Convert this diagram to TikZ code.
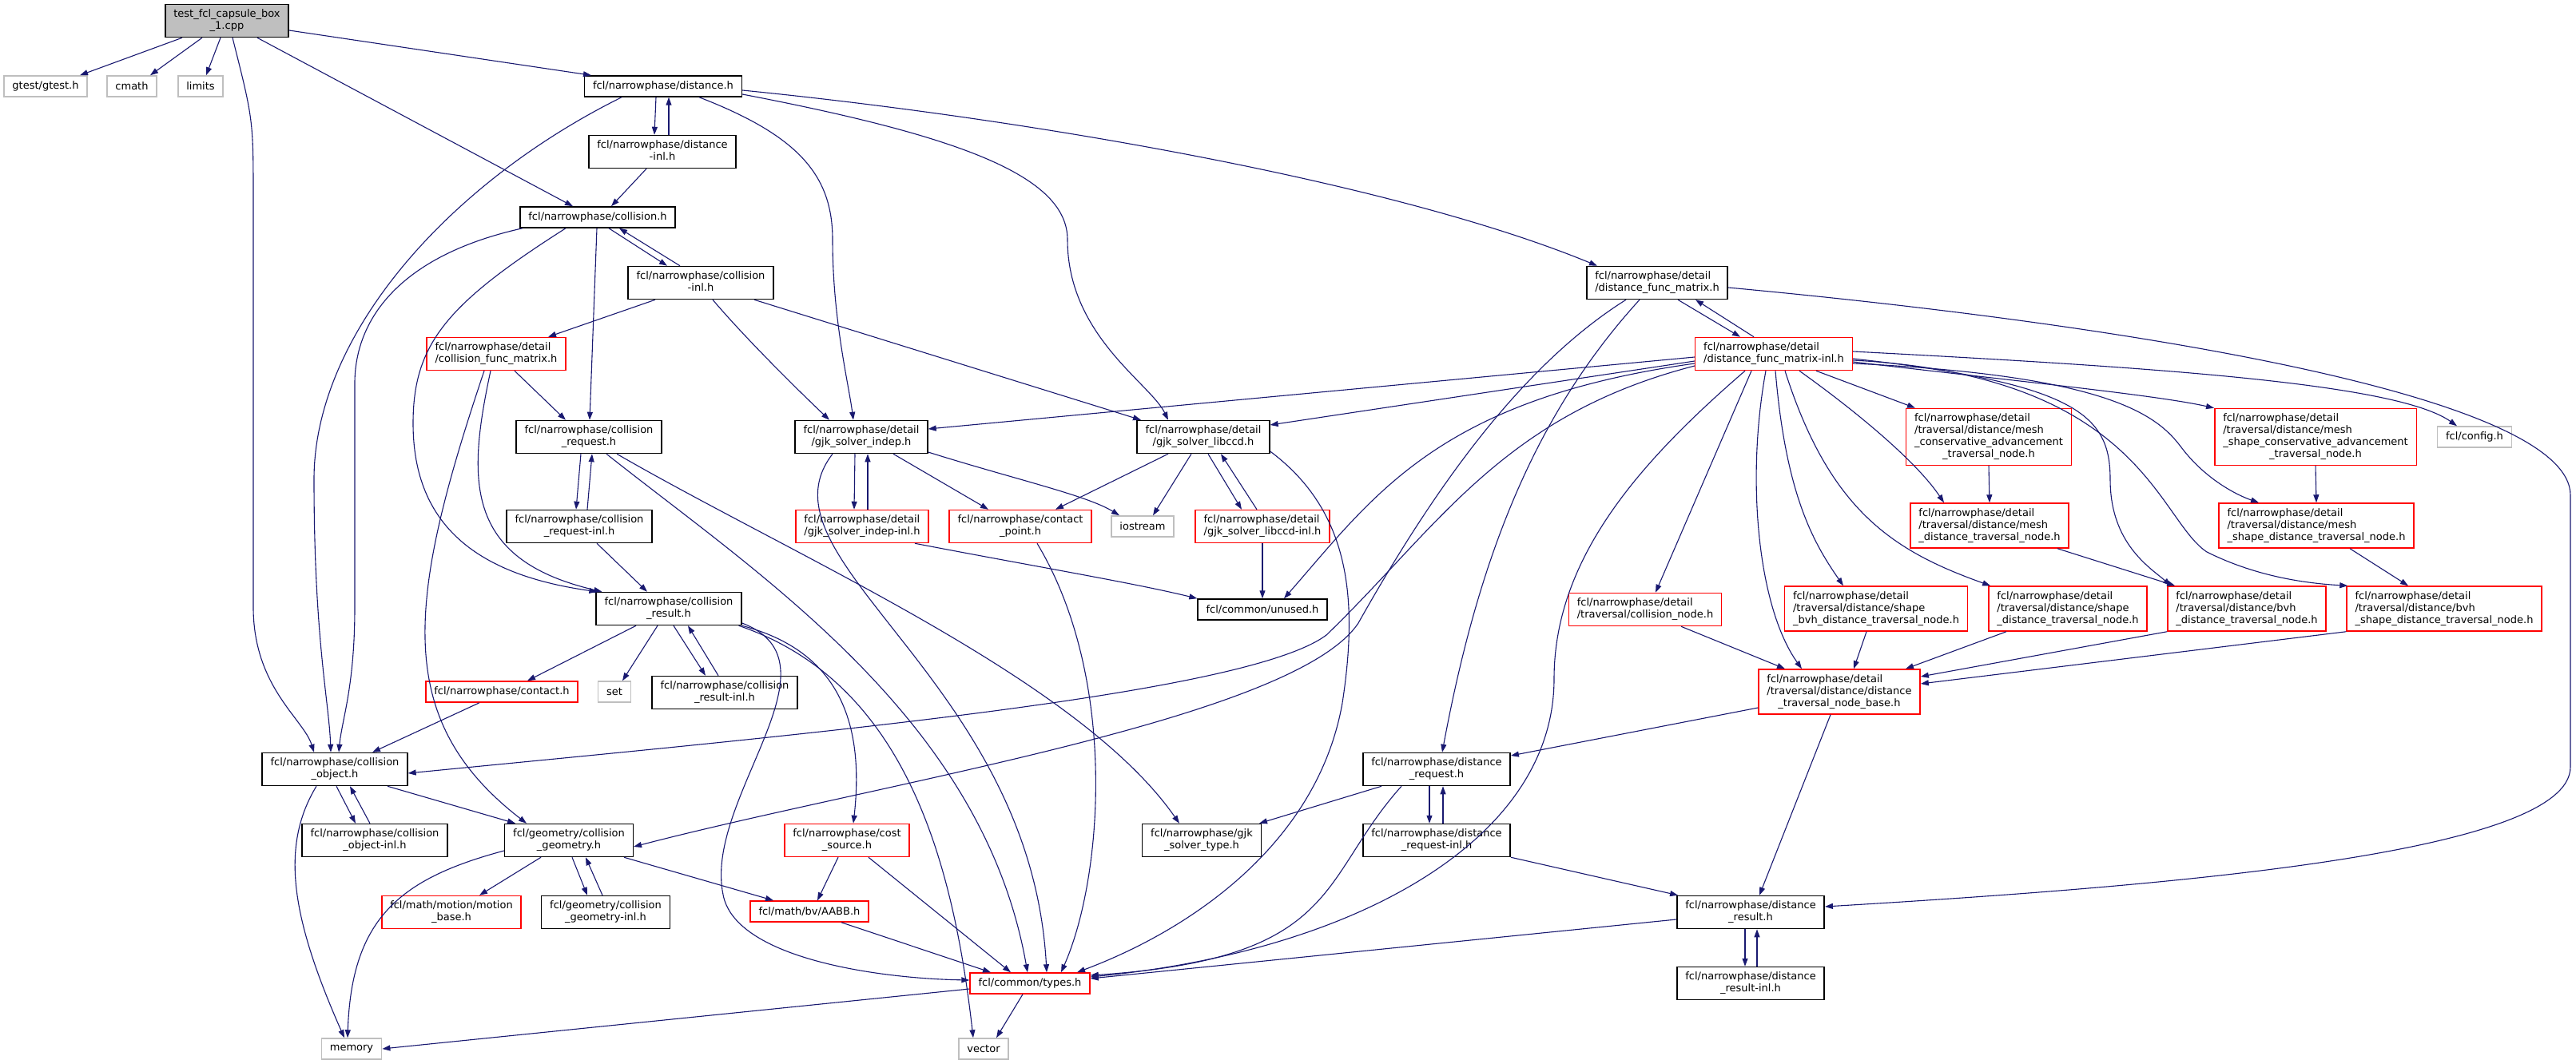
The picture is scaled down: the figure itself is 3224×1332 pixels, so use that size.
\documentclass[tikz,border=0pt]{standalone}
\usepackage{fontspec}
\setmainfont{DejaVu Sans}
\usepackage{tikz}
\usetikzlibrary{arrows.meta}
\definecolor{edgeblue}{HTML}{191970}
\definecolor{redline}{HTML}{FF0000}
\definecolor{grayline}{HTML}{BFBFBF}
\definecolor{rootfill}{HTML}{BFBFBF}
\tikzset{
  dep/.style={-{Triangle[length=10pt,width=7pt]},edgeblue,line width=1.1pt},
  hdr/.style={draw=black,line width=1.5pt,fill=white,inner xsep=10.5pt,inner ysep=5.5pt,minimum height=26pt},
  redhdr/.style={hdr,draw=redline},
  syshdr/.style={hdr,draw=grayline},
  roothdr/.style={hdr,fill=rootfill}
}
\newcommand{\lbl}[2]{\begin{tabular}{@{}l@{}}#1\\\multicolumn{1}{@{}c@{}}{#2}\end{tabular}}

\begin{document}
\begin{tikzpicture}[x=1pt,y=-1pt,font=\fontsize{13}{15}\selectfont]
\useasboundingbox (0,0) rectangle (3224,1332);

\node[roothdr] (test) at (284,26) {\lbl{test\_fcl\_capsule\_box}{\_1.cpp}};
\node[syshdr] (gtest) at (57,108) {gtest/gtest.h};
\node[syshdr] (cmath) at (165,108) {cmath};
\node[syshdr] (limits) at (251,108) {limits};
\node[hdr] (dist) at (830,108) {fcl/narrowphase/distance.h};
\node[hdr] (distinl) at (829,190) {\lbl{fcl/narrowphase/distance}{-inl.h}};
\node[hdr] (coll) at (748,272) {fcl/narrowphase/collision.h};
\node[hdr] (collinl) at (877,354) {\lbl{fcl/narrowphase/collision}{-inl.h}};
\node[hdr] (dfm) at (2074,354) {\lbl{fcl/narrowphase/detail}{/distance\_func\_matrix.h}};
\node[redhdr] (cfm) at (621,443) {\lbl{fcl/narrowphase/detail}{/collision\_func\_matrix.h}};
\node[redhdr] (dfminl) at (2220,443) {\lbl{fcl/narrowphase/detail}{/distance\_func\_matrix-inl.h}};
\node[hdr] (creq) at (737,547) {\lbl{fcl/narrowphase/collision}{\_request.h}};
\node[hdr] (gjkind) at (1078,547) {\lbl{fcl/narrowphase/detail}{/gjk\_solver\_indep.h}};
\node[hdr] (gjklib) at (1506,547) {\lbl{fcl/narrowphase/detail}{/gjk\_solver\_libccd.h}};
\node[redhdr] (meshca) at (2489,547) {\lbl{fcl/narrowphase/detail\\/traversal/distance/mesh\\\_conservative\_advancement}{\_traversal\_node.h}};
\node[redhdr] (meshshca) at (2898,547) {\lbl{fcl/narrowphase/detail\\/traversal/distance/mesh\\\_shape\_conservative\_advancement}{\_traversal\_node.h}};
\node[syshdr] (config) at (3097,547) {fcl/config.h};
\node[hdr] (creqinl) at (725,659) {\lbl{fcl/narrowphase/collision}{\_request-inl.h}};
\node[redhdr] (gjkindinl) at (1079,659) {\lbl{fcl/narrowphase/detail}{/gjk\_solver\_indep-inl.h}};
\node[redhdr] (cpoint) at (1277,659) {\lbl{fcl/narrowphase/contact}{\_point.h}};
\node[syshdr] (iostream) at (1430,659) {iostream};
\node[redhdr] (gjklibinl) at (1580,659) {\lbl{fcl/narrowphase/detail}{/gjk\_solver\_libccd-inl.h}};
\node[redhdr] (meshdist) at (2490,658) {\lbl{fcl/narrowphase/detail\\/traversal/distance/mesh}{\_distance\_traversal\_node.h}};
\node[redhdr] (meshshdist) at (2899,658) {\lbl{fcl/narrowphase/detail\\/traversal/distance/mesh}{\_shape\_distance\_traversal\_node.h}};
\node[hdr] (cres) at (837,762) {\lbl{fcl/narrowphase/collision}{\_result.h}};
\node[hdr] (unused) at (1580,763) {fcl/common/unused.h};
\node[redhdr] (collnode) at (2059,763) {\lbl{fcl/narrowphase/detail}{/traversal/collision\_node.h}};
\node[redhdr] (shbvh) at (2348,762) {\lbl{fcl/narrowphase/detail\\/traversal/distance/shape}{\_bvh\_distance\_traversal\_node.h}};
\node[redhdr] (shdist) at (2588,762) {\lbl{fcl/narrowphase/detail\\/traversal/distance/shape}{\_distance\_traversal\_node.h}};
\node[redhdr] (bvhdist) at (2812,762) {\lbl{fcl/narrowphase/detail\\/traversal/distance/bvh}{\_distance\_traversal\_node.h}};
\node[redhdr] (bvhsh) at (3059,762) {\lbl{fcl/narrowphase/detail\\/traversal/distance/bvh}{\_shape\_distance\_traversal\_node.h}};
\node[redhdr] (contact) at (628,866) {fcl/narrowphase/contact.h};
\node[syshdr] (set) at (769,866) {set};
\node[hdr] (cresinl) at (907,867) {\lbl{fcl/narrowphase/collision}{\_result-inl.h}};
\node[redhdr] (base) at (2302,866) {\lbl{fcl/narrowphase/detail\\/traversal/distance/distance}{\_traversal\_node\_base.h}};
\node[hdr] (cobj) at (419,963) {\lbl{fcl/narrowphase/collision}{\_object.h}};
\node[hdr] (dreq) at (1798,963) {\lbl{fcl/narrowphase/distance}{\_request.h}};
\node[hdr] (cobjinl) at (469,1052) {\lbl{fcl/narrowphase/collision}{\_object-inl.h}};
\node[hdr] (cgeom) at (712,1052) {\lbl{fcl/geometry/collision}{\_geometry.h}};
\node[redhdr] (cost) at (1060,1052) {\lbl{fcl/narrowphase/cost}{\_source.h}};
\node[hdr] (gjktype) at (1504,1052) {\lbl{fcl/narrowphase/gjk}{\_solver\_type.h}};
\node[hdr] (dreqinl) at (1798,1052) {\lbl{fcl/narrowphase/distance}{\_request-inl.h}};
\node[redhdr] (motion) at (565,1142) {\lbl{fcl/math/motion/motion}{\_base.h}};
\node[hdr] (cgeominl) at (758,1142) {\lbl{fcl/geometry/collision}{\_geometry-inl.h}};
\node[redhdr] (aabb) at (1013,1141) {fcl/math/bv/AABB.h};
\node[hdr] (dres) at (2191,1142) {\lbl{fcl/narrowphase/distance}{\_result.h}};
\node[redhdr] (types) at (1289,1231) {fcl/common/types.h};
\node[hdr] (dresinl) at (2191,1231) {\lbl{fcl/narrowphase/distance}{\_result-inl.h}};
\node[syshdr] (memory) at (440,1313) {memory};
\node[syshdr] (vector) at (1231,1313) {vector};

\draw[dep] ([xshift=-56pt]test.south) -- ([xshift=43pt]gtest.north);
\draw[dep] ([xshift=-31pt]test.south) -- ([xshift=23pt]cmath.north);
\draw[dep] ([xshift=-8pt]test.south) -- ([xshift=7pt]limits.north);
\draw[dep] ([yshift=-12pt]test.east) -- ([xshift=-90pt]dist.north);
\draw[dep] ([xshift=38pt]test.south) -- ([xshift=-31pt]coll.north);
\draw[dep] ([xshift=7pt]test.south) .. controls (317,150) .. (317,250) -- (317,760) .. controls (317,860) and (380,900) .. ([xshift=-26pt]cobj.north);

\draw[dep] ([xshift=-9pt]dist.south) -- ([xshift=-10pt]distinl.north);
\draw[dep] ([xshift=8pt]distinl.north) -- ([xshift=7pt]dist.south);
\draw[dep] ([xshift=-52pt]dist.south) .. controls (560,230) and (393,420) .. (393,600) .. controls (393,800) and (412,880) .. ([xshift=-5pt]cobj.north);
\draw[dep] ([xshift=45pt]dist.south) .. controls (1000,170) and (1042,220) .. (1042,300) .. controls (1042,400) and (1062,480) .. ([xshift=-10pt]gjkind.north);
\draw[dep] ([yshift=-10pt]dist.east) .. controls (1200,170) and (1336,220) .. (1336,300) .. controls (1336,420) and (1440,480) .. ([xshift=-44pt]gjklib.north);
\draw[dep] ([yshift=-5pt]dist.east) .. controls (1300,150) and (1750,230) .. ([xshift=-75pt]dfm.north);
\draw[dep] ([xshift=-20pt]distinl.south) -- ([xshift=17pt]coll.north);

\draw[dep] ([xshift=14pt]coll.south) -- ([xshift=-42pt]collinl.north);
\draw[dep] ([xshift=-26pt]collinl.north) -- ([xshift=27pt]coll.south);
\draw[dep] ([xshift=-94pt]coll.south) .. controls (500,320) and (444,400) .. (444,480) -- (444,760) .. controls (444,860) and (428,900) .. ([xshift=5pt]cobj.north);
\draw[dep] ([xshift=-1pt]coll.south) -- ([xshift=1pt]creq.north);
\draw[dep] ([xshift=-40pt]coll.south) .. controls (560,380) and (517,430) .. (517,530) .. controls (517,660) and (600,720) .. ([xshift=2pt]cres.north west);
\draw[dep] ([xshift=-57pt]collinl.south) -- ([xshift=65pt]cfm.north);
\draw[dep] ([xshift=15pt]collinl.south) .. controls (930,420) and (990,480) .. ([xshift=-40pt]gjkind.north);
\draw[dep] ([xshift=67pt]collinl.south) -- ([xshift=-78pt]gjklib.north);

\draw[dep] ([xshift=26pt]dfm.south) -- ([xshift=-42pt]dfminl.north);
\draw[dep] ([xshift=-25pt]dfminl.north) -- ([xshift=48pt]dfm.south);
\draw[dep] ([xshift=-39pt]dfm.south) .. controls (1900,460) and (1790,620) .. (1700,780) .. controls (1620,900) and (1100,980) .. ([yshift=-8pt]cgeom.east);
\draw[dep] ([xshift=-22pt]dfm.south) .. controls (1920,520) and (1850,700) .. ([xshift=7pt]dreq.north);
\draw[dep] ([yshift=-6pt]dfm.east) .. controls (2700,410) and (3217,500) .. (3217,620) -- (3217,960) .. controls (3217,1070) and (2700,1110) .. ([yshift=7pt]dres.east);

\draw[dep] ([yshift=-4pt]dfminl.west) -- ([yshift=10pt]gjkind.east);
\draw[dep] ([yshift=-9pt]dfminl.west) -- ([yshift=15pt]gjklib.east);
\draw[dep] ([yshift=-12pt]dfminl.west) .. controls (1800,500) and (1720,620) .. ([xshift=27pt]unused.north);
\draw[dep] ([yshift=-15pt]dfminl.west) .. controls (1880,520) and (1800,660) .. (1660,795) .. controls (1560,870) and (1000,920) .. ([yshift=-5pt]cobj.east);
\draw[dep] ([xshift=-36pt]dfminl.south) .. controls (2050,580) and (1945,700) .. (1945,850) .. controls (1945,1050) and (1700,1190) .. ([yshift=8pt]types.east);
\draw[dep] ([xshift=-28pt]dfminl.south) -- ([xshift=13pt]collnode.north);
\draw[dep] ([xshift=-10pt]dfminl.south) .. controls (2185,600) and (2200,760) .. ([xshift=-47pt]base.north);
\draw[dep] ([xshift=2pt]dfminl.south) .. controls (2235,620) and (2270,680) .. ([xshift=-41pt]shbvh.north);
\draw[dep] ([xshift=14pt]dfminl.south) .. controls (2290,640) and (2370,690) .. ([xshift=3pt]shdist.north west);
\draw[dep] ([xshift=32pt]dfminl.south) .. controls (2330,520) and (2400,580) .. ([xshift=-57pt]meshdist.north);
\draw[dep] ([xshift=53pt]dfminl.south) -- ([xshift=-92pt]meshca.north);
\draw[dep] ([yshift=-6pt]dfminl.east) .. controls (2600,480) and (2641,520) .. (2641,600) .. controls (2641,680) and (2690,710) .. ([xshift=5pt]bvhdist.north west);
\draw[dep] ([yshift=-8pt]dfminl.east) .. controls (2680,470) and (2700,650) .. (2762,691) .. controls (2820,720) and (2880,730) .. ([xshift=2pt]bvhsh.north west);
\draw[dep] ([yshift=-10pt]dfminl.east) .. controls (2550,480) and (2700,495) .. (meshshca.north west);
\draw[dep] ([yshift=-12pt]dfminl.east) .. controls (2640,470) and (2700,520) .. (2730,560) .. controls (2760,600) and (2800,620) .. ([xshift=-72pt]meshshdist.north);
\draw[dep] ([yshift=3pt]dfminl.east) .. controls (2700,460) and (3000,480) .. ([xshift=-22pt]config.north);

\draw[dep] ([xshift=-10pt]creq.south) -- ([xshift=-4pt]creqinl.north);
\draw[dep] ([xshift=10pt]creqinl.north) -- ([xshift=4pt]creq.south);
\draw[dep] ([xshift=22pt]creq.south) .. controls (950,720) and (1230,900) .. ([xshift=-3pt]types.north);
\draw[dep] ([xshift=35pt]creq.south) .. controls (1000,700) and (1350,850) .. ([xshift=-28pt]gjktype.north);
\draw[dep] ([xshift=22pt]creqinl.south) -- ([xshift=-27pt]cres.north);
\draw[dep] ([xshift=23pt]cfm.south) -- ([xshift=-29pt]creq.north);
\draw[dep] ([xshift=-7pt]cfm.south) .. controls (585,600) and (580,700) .. ([xshift=8pt]cres.north west);
\draw[dep] ([xshift=-15pt]cfm.south) .. controls (510,750) and (490,900) .. ([xshift=-53pt]cgeom.north);

\draw[dep] ([xshift=-8pt]gjkind.south) -- ([xshift=-10pt]gjkindinl.north);
\draw[dep] ([xshift=7pt]gjkindinl.north) -- ([xshift=8pt]gjkind.south);
\draw[dep] ([xshift=40pt]gjkind.south) -- ([xshift=-40pt]cpoint.north);
\draw[dep] ([yshift=-19pt]gjkind.east) .. controls (1270,600) and (1360,620) .. ([xshift=-29pt]iostream.north);
\draw[dep] ([xshift=-36pt]gjkind.south) .. controls (940,700) and (1290,850) .. ([xshift=21pt]types.north);
\draw[dep] ([xshift=21pt]cpoint.south) .. controls (1400,850) and (1380,1100) .. ([xshift=39pt]types.north);
\draw[dep] ([xshift=-44pt]gjklib.south) -- ([xshift=44pt]cpoint.north);
\draw[dep] ([xshift=-15pt]gjklib.south) -- ([xshift=13pt]iostream.north);
\draw[dep] ([xshift=6pt]gjklib.south) -- ([xshift=-26pt]gjklibinl.north);
\draw[dep] ([xshift=-7pt]gjklibinl.north) -- ([xshift=22pt]gjklib.south);
\draw[dep] ([yshift=-18pt]gjklib.east) .. controls (1690,640) and (1700,750) .. (1680,880) .. controls (1650,1050) and (1500,1160) .. ([xshift=59pt]types.north);
\draw[dep] (gjklibinl.south) -- (unused.north);
\draw[dep] ([xshift=66pt]gjkindinl.south) .. controls (1300,710) and (1420,730) .. (unused.north west);

\draw[dep] ([xshift=-41pt]cres.south) -- ([xshift=32pt]contact.north);
\draw[dep] ([xshift=-14pt]cres.south) -- ([xshift=10pt]set.north);
\draw[dep] ([xshift=6pt]cres.south) -- ([xshift=-24pt]cresinl.north);
\draw[dep] ([xshift=-8pt]cresinl.north) -- ([xshift=24pt]cres.south);
\draw[dep] ([yshift=-18pt]cres.east) .. controls (1060,830) and (880,1000) .. (905,1120) .. controls (920,1200) and (1100,1225) .. ([yshift=4pt]types.west);
\draw[dep] (cres.south east) .. controls (1030,810) and (1085,880) .. ([xshift=8pt]cost.north);
\draw[dep] ([xshift=-4pt]cres.south east) .. controls (1120,850) and (1190,1050) .. ([xshift=-13pt]vector.north);
\draw[dep] ([xshift=-28pt]contact.south) -- ([xshift=47pt]cobj.north);

\draw[dep] ([xshift=2pt]cobj.south) -- ([xshift=-24pt]cobjinl.north);
\draw[dep] ([xshift=-6pt]cobjinl.north) -- ([xshift=19pt]cobj.south);
\draw[dep] ([xshift=66pt]cobj.south) -- ([xshift=-67pt]cgeom.north);
\draw[dep] ([xshift=-23pt]cobj.south) .. controls (350,1060) and (365,1150) .. ([xshift=-9pt]memory.north);
\draw[dep] ([yshift=-13pt]cgeom.west) .. controls (500,1100) and (440,1150) .. ([xshift=-5pt]memory.north);
\draw[dep] ([xshift=-35pt]cgeom.south) -- ([xshift=35pt]motion.north);
\draw[dep] ([xshift=4pt]cgeom.south) -- ([xshift=-23pt]cgeominl.north);
\draw[dep] ([xshift=-4pt]cgeominl.north) -- ([xshift=21pt]cgeom.south);
\draw[dep] ([xshift=69pt]cgeom.south) -- ([xshift=-45pt]aabb.north);
\draw[dep] ([xshift=-11pt]cost.south) -- ([xshift=10pt]aabb.north);
\draw[dep] ([xshift=27pt]cost.south) -- ([xshift=-24pt]types.north);
\draw[dep] ([xshift=40pt]aabb.south) -- ([xshift=-49pt]types.north);
\draw[dep] ([yshift=-7pt]types.west) -- (memory.east);
\draw[dep] ([xshift=-9pt]types.south) -- ([xshift=16pt]vector.north);

\draw[dep] ([xshift=-69pt]dreq.south) -- ([xshift=72pt]gjktype.north);
\draw[dep] ([xshift=-44pt]dreq.south) .. controls (1650,1100) and (1680,1200) .. ([yshift=10pt]types.east);
\draw[dep] ([xshift=-9pt]dreq.south) -- ([xshift=-9pt]dreqinl.north);
\draw[dep] ([xshift=8pt]dreqinl.north) -- ([xshift=8pt]dreq.south);
\draw[dep] (dreqinl.south east) -- ([xshift=2pt]dres.north west);
\draw[dep] ([yshift=-9pt]dres.west) -- ([yshift=6pt]types.east);
\draw[dep] ([xshift=-7pt]dres.south) -- ([xshift=-7pt]dresinl.north);
\draw[dep] ([xshift=8pt]dresinl.north) -- ([xshift=8pt]dres.south);

\draw[dep] ([yshift=-20pt]base.west) -- ([yshift=17pt]dreq.east);
\draw[dep] ([xshift=-11pt]base.south) -- ([xshift=11pt]dres.north);
\draw[dep] ([xshift=45pt]collnode.south) -- ([xshift=-68pt]base.north);
\draw[dep] ([xshift=-12pt]shbvh.south) -- ([xshift=18pt]base.north);
\draw[dep] ([xshift=-77pt]shdist.south) -- ([xshift=83pt]base.north);
\draw[dep] (bvhdist.south west) -- ([yshift=19pt]base.east);
\draw[dep] (bvhsh.south west) -- ([yshift=10pt]base.east);
\draw[dep] (meshca.south) -- (meshdist.north);
\draw[dep] ([xshift=85pt]meshdist.south) -- ([xshift=10pt]bvhdist.north west);
\draw[dep] (meshshca.south) -- (meshshdist.north);
\draw[dep] ([xshift=42pt]meshshdist.south) -- ([xshift=-45pt]bvhsh.north);
\end{tikzpicture}
\end{document}
